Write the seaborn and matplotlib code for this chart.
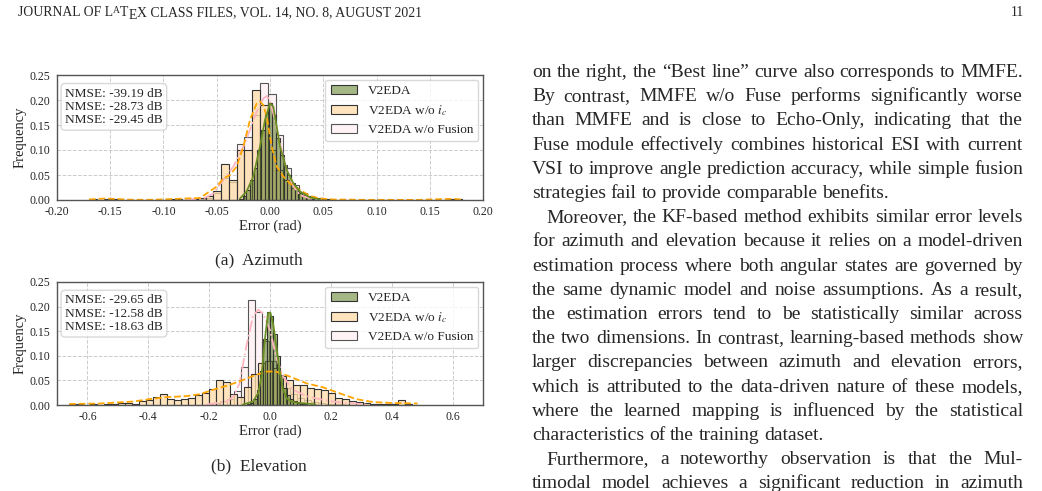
import numpy as np
import pandas as pd
import matplotlib
matplotlib.use("Agg")
import matplotlib.pyplot as plt
import seaborn as sns

W, H = 1042, 491

# ---------------- data (probability per bin) ----------------
series_names = ["V2EDA", "V2EDA w/o $i_c$", "V2EDA w/o Fusion"]

# azimuth
az_green_start, az_green_width = -0.02925, 0.0035
az_green = [0.003, 0.008, 0.02, 0.04, 0.065, 0.10, 0.14, 0.175, 0.195, 0.17, 0.125,
            0.09, 0.07, 0.05, 0.035, 0.025, 0.016, 0.01, 0.006, 0.003, 0.002]
az_orange_start, az_orange_width = -0.170, 0.0073
az_orange = [0.002, 0.001, 0.003, 0.002, 0.001, 0.0, 0.001, 0.0, 0.001, 0.001,
             0.002, 0.002, 0.001, 0.003, 0.004, 0.008, 0.018, 0.073, 0.04, 0.10,
             0.10, 0.22, 0.19, 0.10, 0.06, 0.04, 0.025, 0.015, 0.008, 0.004,
             0.003, 0.001, 0.0, 0.0, 0.0, 0.0, 0.0, 0.0, 0.0, 0.0,
             0.0, 0.0, 0.0, 0.0, 0.0, 0.0, 0.002, 0.002]
az_pink_start, az_pink_width = -0.0824, 0.0073
az_pink = [0.001, 0.002, 0.002, 0.005, 0.015, 0.045, 0.037, 0.112, 0.126, 0.17,
           0.234, 0.213, 0.13, 0.065, 0.03, 0.012, 0.005, 0.002]

az_kde_green_x = [-0.0282, -0.022, -0.0157, -0.0094, -0.0047, 0.0, 0.0031, 0.0094,
                  0.0157, 0.022, 0.0282, 0.0376, 0.047]
az_kde_green_y = [0.003, 0.017, 0.047, 0.107, 0.16, 0.193, 0.187, 0.107,
                  0.06, 0.033, 0.017, 0.005, 0.001]
az_kde_orange_x = [-0.17, -0.155, -0.145, -0.13, -0.11, -0.09, -0.08, -0.0657, -0.05,
                   -0.0438, -0.0375, -0.0313, -0.025, -0.0188, -0.0125, -0.0094,
                   -0.0063, -0.0031, 0.0016, 0.0063, 0.0125, 0.0188, 0.0282, 0.0376,
                   0.047, 0.06, 0.09, 0.14, 0.165, 0.175, 0.18]
az_kde_orange_y = [0.001, 0.003, 0.002, 0.0005, 0.0005, 0.002, 0.003, 0.004, 0.027,
                   0.043, 0.05, 0.067, 0.107, 0.16, 0.193, 0.197, 0.19, 0.167, 0.107,
                   0.067, 0.047, 0.033, 0.02, 0.008, 0.003, 0.001, 0.0003, 0.0003,
                   0.002, 0.002, 0.0005]
az_kde_pink_x = [-0.08, -0.0626, -0.0532, -0.0438, -0.0344, -0.025, -0.0188, -0.0125,
                 -0.0063, -0.0031, 0.0, 0.0031, 0.0094, 0.0157, 0.022, 0.0282, 0.0376, 0.048]
az_kde_pink_y = [0.0005, 0.003, 0.013, 0.04, 0.067, 0.107, 0.14, 0.177,
                 0.203, 0.208, 0.198, 0.173, 0.113, 0.06, 0.027, 0.01, 0.003, 0.0005]
az_nmse = ["-39.19", "-28.73", "-29.45"]

# elevation
el_green_start, el_green_width = -0.077, 0.011
el_green = [0.002, 0.005, 0.012, 0.03, 0.07, 0.135, 0.19, 0.18, 0.145, 0.10,
            0.06, 0.035, 0.02, 0.012, 0.008, 0.005, 0.003, 0.002]
el_orange_start, el_orange_width = -0.66, 0.023
el_orange = [0.002, 0.002, 0.001, 0.002, 0.001, 0.002, 0.002, 0.005, 0.004, 0.003,
             0.008, 0.01, 0.016, 0.022, 0.012, 0.01, 0.013, 0.014, 0.02, 0.025,
             0.032, 0.05, 0.047, 0.022, 0.016, 0.036, 0.062, 0.085, 0.09, 0.075,
             0.058, 0.05, 0.041, 0.04, 0.035, 0.032, 0.03, 0.025, 0.015, 0.013,
             0.009, 0.007, 0.004, 0.003, 0.002, 0.002, 0.002, 0.01, 0.002, 0.001]
el_pink_start, el_pink_width = -0.209, 0.023
el_pink = [0.002, 0.005, 0.008, 0.012, 0.028, 0.077, 0.214, 0.19, 0.13, 0.09,
           0.06, 0.035, 0.022, 0.015, 0.01, 0.007, 0.005, 0.003, 0.002, 0.002, 0.001]

el_kde_green_x = [-0.089, -0.056, -0.039, -0.028, -0.017, -0.0066, 0.001, 0.01,
                  0.021, 0.032, 0.043, 0.054, 0.07, 0.086, 0.12, 0.15]
el_kde_green_y = [0.001, 0.007, 0.024, 0.058, 0.132, 0.186, 0.188, 0.166,
                  0.119, 0.068, 0.031, 0.014, 0.007, 0.005, 0.003, 0.001]
el_kde_orange_x = [-0.66, -0.56, -0.45, -0.395, -0.34, -0.275, -0.23, -0.187, -0.143,
                   -0.1, -0.056, -0.012, 0.02, 0.064, 0.12, 0.174, 0.228, 0.283,
                   0.338, 0.403, 0.447, 0.485]
el_kde_orange_y = [0.002, 0.003, 0.007, 0.012, 0.016, 0.018, 0.022, 0.031, 0.039,
                   0.048, 0.059, 0.068, 0.068, 0.058, 0.044, 0.036, 0.024, 0.012,
                   0.006, 0.004, 0.0035, 0.003]
el_kde_pink_x = [-0.209, -0.143, -0.121, -0.1, -0.078, -0.056, -0.039, -0.023, 0.0,
                 0.02, 0.043, 0.075, 0.12, 0.163, 0.207, 0.26, 0.316]
el_kde_pink_y = [0.001, 0.007, 0.017, 0.044, 0.119, 0.18, 0.194, 0.186, 0.152,
                 0.098, 0.058, 0.031, 0.018, 0.012, 0.007, 0.004, 0.001]
el_nmse = ["-29.65", "-12.58", "-18.63"]

# ---------------- style ----------------
sns.set_theme(style="white")
plt.rcParams["font.family"] = ["Liberation Serif", "DejaVu Serif"]
plt.rcParams["mathtext.fontset"] = "stix"
plt.rcParams["axes.unicode_minus"] = False

fill_colors = ["#5a7d22", "#ffdba8", "#fff0f3"]
fill_alpha = [0.55, 0.75, 0.8]
edge_colors = ["#333333", "#333333", "#555555"]
kde_colors = ["#6b8e23", "#ffa500", "#ffb6c1"]
kde_styles = ["-", "--", "-."]

fig = plt.figure(figsize=(W / 100, H / 100), dpi=100)


def draw_panel(rect, hists, kdes, nmse, xlim, xticks, xfmt):
    ax = fig.add_axes(rect)
    # w/o Fusion at the bottom, V2EDA on top
    for i in [2, 1, 0]:
        start, width, vals = hists[i]
        edges = start + width * np.arange(len(vals) + 1)
        df = pd.DataFrame({"err": edges[:-1] + width / 2, "freq": vals})
        sns.histplot(data=df, x="err", weights="freq", bins=edges.tolist(), stat="count",
                     ax=ax, color=fill_colors[i], alpha=fill_alpha[i],
                     edgecolor=edge_colors[i], linewidth=0.8, label=series_names[i])
    for i in [2, 1, 0]:
        kx, ky = kdes[i]
        sns.lineplot(x=kx, y=ky, ax=ax, color=kde_colors[i], linestyle=kde_styles[i],
                     linewidth=1.3)
    ax.set_xlim(*xlim)
    ax.set_ylim(0, 0.25)
    ax.set_xticks(xticks)
    ax.set_xticklabels([xfmt.format(t) for t in xticks])
    ax.set_yticks([0, 0.05, 0.10, 0.15, 0.20, 0.25])
    ax.set_yticklabels(["0.00", "0.05", "0.10", "0.15", "0.20", "0.25"])
    ax.tick_params(labelsize=8.5, length=2.5, width=0.8, pad=2, color="#444444")
    ax.grid(True, linestyle="--", color="#cccccc", linewidth=0.7)
    ax.set_axisbelow(True)
    for s in ax.spines.values():
        s.set_color("#555555")
        s.set_linewidth(1.0)
    ax.set_xlabel("Error (rad)", fontsize=10.5, labelpad=1)
    ax.set_ylabel("Frequency", fontsize=10.5, labelpad=2)
    ax.text(0.019, 0.9, "\n".join(f"NMSE: {v} dB" for v in nmse), transform=ax.transAxes,
            fontsize=9.6, va="top", ha="left", linespacing=1.15,
            bbox=dict(boxstyle="round,pad=0.3", facecolor="white", edgecolor="#d0d0d0",
                      alpha=0.8))
    handles, labels = ax.get_legend_handles_labels()
    ax.legend(handles[::-1], labels[::-1], loc="upper right", fontsize=9.5,
              framealpha=0.8, edgecolor="#d0d0d0", borderaxespad=0.35, labelspacing=0.45)
    return ax


draw_panel([57 / W, 1 - 200 / H, 426 / W, 125 / H],
           [(az_green_start, az_green_width, az_green),
            (az_orange_start, az_orange_width, az_orange),
            (az_pink_start, az_pink_width, az_pink)],
           [(az_kde_green_x, az_kde_green_y),
            (az_kde_orange_x, az_kde_orange_y),
            (az_kde_pink_x, az_kde_pink_y)],
           az_nmse, (-0.2, 0.2), [-0.2, -0.15, -0.1, -0.05, 0, 0.05, 0.1, 0.15, 0.2],
           "{:.2f}")
draw_panel([57 / W, 1 - 405 / H, 426 / W, 123 / H],
           [(el_green_start, el_green_width, el_green),
            (el_orange_start, el_orange_width, el_orange),
            (el_pink_start, el_pink_width, el_pink)],
           [(el_kde_green_x, el_kde_green_y),
            (el_kde_orange_x, el_kde_orange_y),
            (el_kde_pink_x, el_kde_pink_y)],
           el_nmse, (-0.7, 0.7), [-0.6, -0.4, -0.2, 0, 0.2, 0.4, 0.6], "{:.1f}")

# ---------------- captions and page text ----------------
fig.text(259 / W, 1 - 260 / H, "(a)  Azimuth", fontsize=12.5, ha="center", va="center")
fig.text(259 / W, 1 - 466 / H, "(b)  Elevation", fontsize=12.5, ha="center", va="center")

fig.canvas.draw()
renderer = fig.canvas.get_renderer()


def place_runs(runs, x0, y_base):
    x = x0
    for s, fs, dy, kern in runs:
        x += kern
        t = fig.text(x / W, 1 - (y_base - dy) / H, s, fontsize=fs, va="baseline", ha="left")
        x += t.get_window_extent(renderer).width


HFS = 9.9
place_runs([("JOURNAL OF L", HFS, 0, 0), ("A", HFS * 0.7, 3.0, 0),
            ("T", HFS, 0, 0), ("E", HFS, -3.0, 0),
            ("X CLASS FILES, VOL. 14, NO. 8, AUGUST 2021", HFS, 0, 0)],
           18, 16)
fig.text(1024 / W, 1 - 16 / H, "11", fontsize=HFS, ha="right", va="baseline")

BODY_FS = 14.0
body_lines = [
    ("on the right, the \u201cBest line\u201d curve also corresponds to MMFE.", 0, True),
    ("By contrast, MMFE w/o Fuse performs significantly worse", 0, True),
    ("than MMFE and is close to Echo-Only, indicating that the", 0, True),
    ("Fuse module effectively combines historical ESI with current", 0, True),
    ("VSI to improve angle prediction accuracy, while simple fusion", 0, True),
    ("strategies fail to provide comparable benefits.", 0, False),
    ("Moreover, the KF-based method exhibits similar error levels", 1, True),
    ("for azimuth and elevation because it relies on a model-driven", 0, True),
    ("estimation process where both angular states are governed by", 0, True),
    ("the same dynamic model and noise assumptions. As a result,", 0, True),
    ("the estimation errors tend to be statistically similar across", 0, True),
    ("the two dimensions. In contrast, learning-based methods show", 0, True),
    ("larger discrepancies between azimuth and elevation errors,", 0, True),
    ("which is attributed to the data-driven nature of these models,", 0, True),
    ("where the learned mapping is influenced by the statistical", 0, True),
    ("characteristics of the training dataset.", 0, False),
    ("Furthermore, a noteworthy observation is that the Mul-", 1, True),
    ("timodal model achieves a significant reduction in azimuth", 0, True),
]
X_LEFT, X_RIGHT, INDENT = 532, 1023, 14
space_px = 0.25 * BODY_FS * 100 / 72
for i, (line, indent, justify) in enumerate(body_lines):
    y_base = 77 + 24.2 * i
    words = line.split()
    arts = [fig.text(0, 1 - y_base / H, w, fontsize=BODY_FS, va="baseline", ha="left")
            for w in words]
    widths = [a.get_window_extent(renderer).width for a in arts]
    x0 = X_LEFT + INDENT * indent
    gap = (X_RIGHT - x0 - sum(widths)) / (len(words) - 1) if justify else space_px
    x = x0
    for a, w in zip(arts, widths):
        a.set_x(x / W)
        x += w + gap

fig.savefig("out.png", dpi=100)
